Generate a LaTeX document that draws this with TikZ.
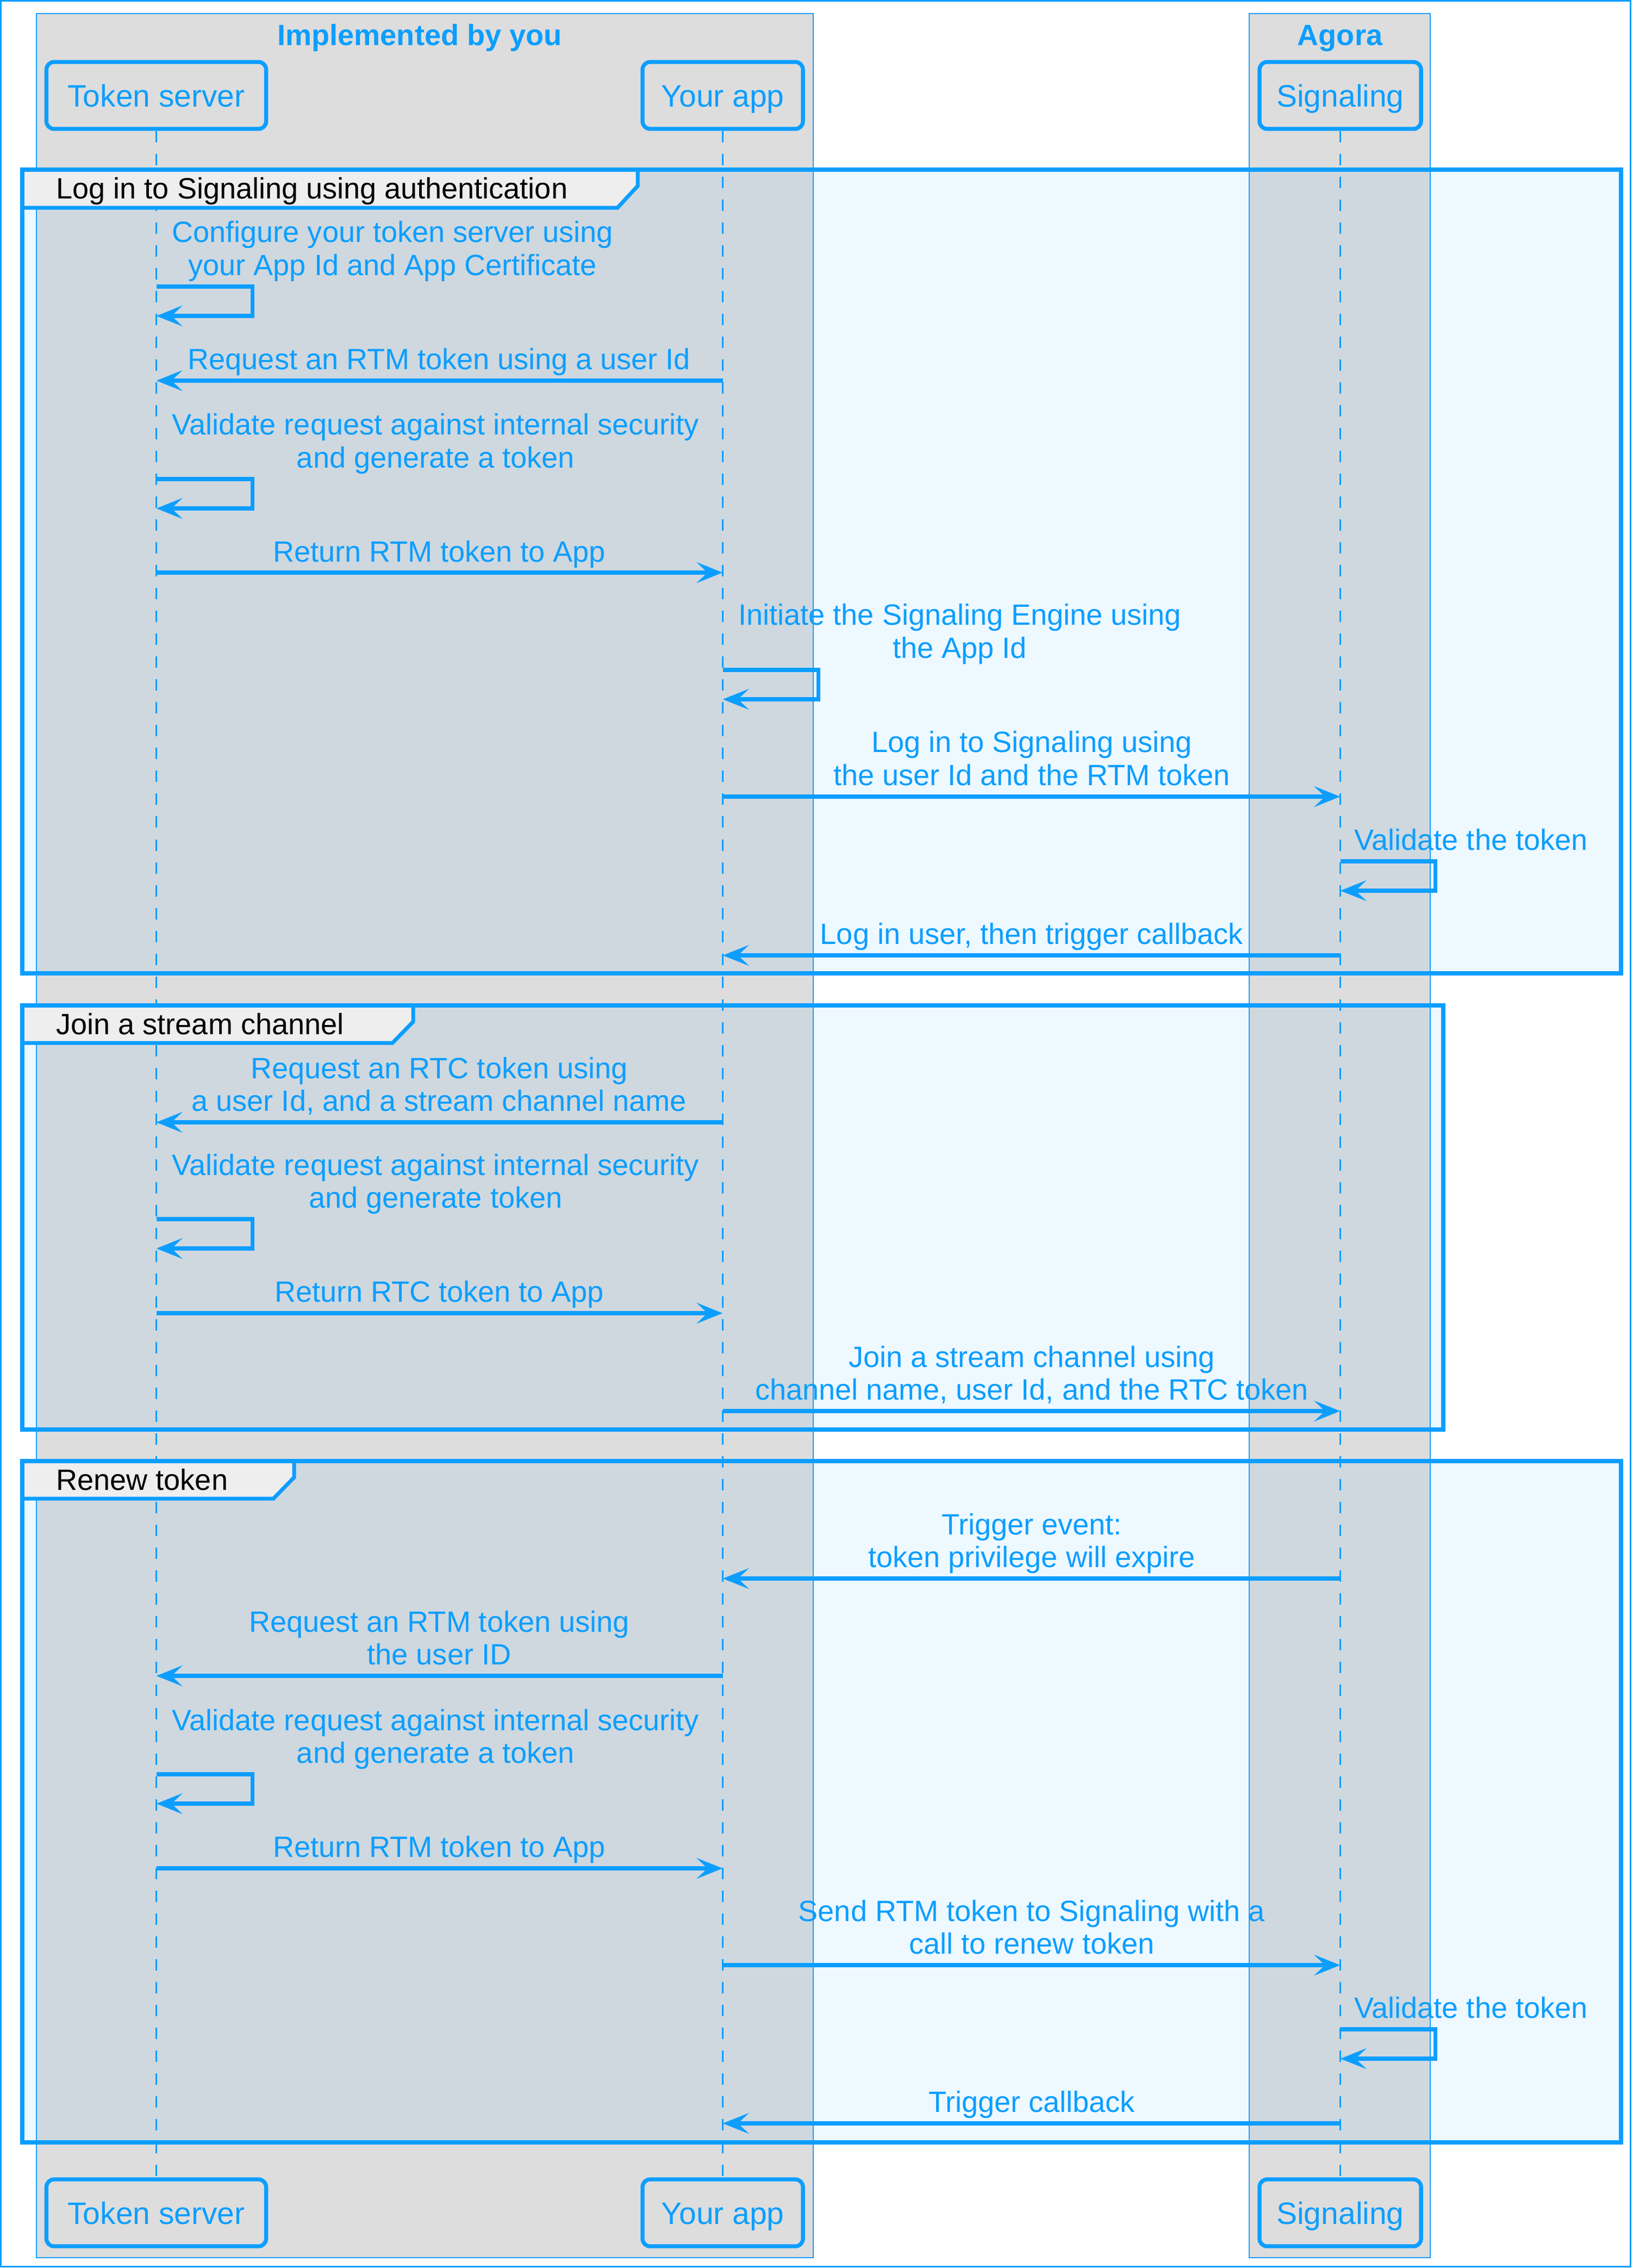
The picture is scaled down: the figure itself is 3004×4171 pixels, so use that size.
\documentclass[tikz,border=0pt]{standalone}
\usepackage{fontspec}
\setmainfont{Liberation Sans}
\usetikzlibrary{arrows.meta}
\definecolor{ablue}{RGB}{12,158,255}
\definecolor{lanegray}{HTML}{DDDDDD}
\definecolor{tabgray}{HTML}{EEEEEE}
\newcommand{\msgfont}{\fontsize{15.37pt}{17.07pt}\selectfont}
\newcommand{\partfont}{\fontsize{16.2pt}{18pt}\selectfont}
\newcommand{\ml}[1]{\begin{tabular}[b]{@{}c@{}}#1\end{tabular}}
\tikzset{
  lanebox/.style={fill=lanegray, draw=ablue, line width=0.023cm},
  lanetitle/.style={font=\msgfont\bfseries, text=ablue, inner sep=0, anchor=base},
  part/.style={draw=ablue, fill=lanegray, line width=0.073cm, rounded corners=0.14cm,
    minimum height=1.23cm, text height=0.41cm, text depth=0cm, inner sep=0,
    font=\partfont, text=ablue},
  lifeline/.style={draw=ablue, line width=0.023cm, dash pattern=on 0.21cm off 0.21cm},
  grpfill/.style={fill=ablue, fill opacity=0.066},
  grpframe/.style={draw=ablue, line width=0.075cm},
  grptab/.style={draw=ablue, fill=tabgray, line width=0.07cm, line join=miter},
  grptitle/.style={font=\msgfont, text=black, inner sep=0, anchor=base west},
  msg/.style={draw=ablue, line width=0.075cm, line join=miter,
    -{Stealth[length=0.48cm, width=0.38cm, inset=0.2cm]}},
  msglabel/.style={font=\msgfont, text=ablue, inner sep=0, anchor=base},
  selflabel/.style={font=\msgfont, text=ablue, inner sep=0, anchor=base west}
}
\begin{document}
\begin{tikzpicture}[x=0.01cm, y=-0.01cm]
\useasboundingbox (0,0) rectangle (3004,4171);
\fill[white] (0,0) rectangle (3004,4171);
\draw[ablue, line width=0.03cm] (1.5,1.5) rectangle (2999.5,4168.5);

% lanes
\draw[lanebox] (67,25) rectangle (1496,4152);
\draw[lanebox] (2298,25) rectangle (2631,4152);
\node[lanetitle] (lt1) at (772,83) {Implemented by you};
\node[lanetitle] (lt2) at (2465,83) {Agora};

% participants
\node[part, minimum width=4.04cm] (ts) at (287.5,175.5) {Token server};
\node[part, minimum width=2.95cm] (app) at (1329.5,175.5) {Your app};
\node[part, minimum width=2.97cm] (sig) at (2465.5,175.5) {Signaling};
\node[part, minimum width=4.04cm] (ts2) at (287.5,4069.5) {Token server};
\node[part, minimum width=2.95cm] (app2) at (1329.5,4069.5) {Your app};
\node[part, minimum width=2.97cm] (sig2) at (2465.5,4069.5) {Signaling};

% lifelines
\draw[lifeline] (ts.south) -- (ts2.north);
\draw[lifeline] (app.south) -- (app2.north);
\draw[lifeline] (sig.south) -- (sig2.north);

% group 1
\fill[grpfill] (41,312) rectangle (2982,1790);
\draw[grptab] (41,312) -- (1173,312) -- (1173,342) -- (1136,382) -- (41,382) -- cycle;
\draw[grpframe] (41,312) rectangle (2982,1790);
\node[grptitle] (g1) at (103,365) {Log in to Signaling using authentication};

% group 2
\fill[grpfill] (41,1849) rectangle (2655,2629);
\draw[grptab] (41,1849) -- (760,1849) -- (760,1879) -- (722,1918) -- (41,1918) -- cycle;
\draw[grpframe] (41,1849) rectangle (2655,2629);
\node[grptitle] (g2) at (103,1902) {Join a stream channel};

% group 3
\fill[grpfill] (41,2687) rectangle (2982,3940);
\draw[grptab] (41,2687) -- (541,2687) -- (541,2717) -- (503,2756) -- (41,2756) -- cycle;
\draw[grpframe] (41,2687) rectangle (2982,3940);
\node[grptitle] (g3) at (103,2740) {Renew token};

% messages group 1
\node[selflabel] (t1) at (316,506) {\ml{Configure your token server using\\your App Id and App Certificate}};
\draw[msg] (ts |- 0,527) -- ++(177,0) -- ++(0,54) -- (ts |- 0,581);

\node[msglabel] (t2) at (808,679) {Request an RTM token using a user Id};
\draw[msg] (app |- 0,700) -- (ts |- 0,700);

\node[selflabel] (t3) at (316,860) {\ml{Validate request against internal security\\and generate a token}};
\draw[msg] (ts |- 0,881) -- ++(177,0) -- ++(0,54) -- (ts |- 0,935);

\node[msglabel] (t4) at (808,1033) {Return RTM token to App};
\draw[msg] (ts |- 0,1053) -- (app |- 0,1053);

\node[selflabel] (t5) at (1358,1210) {\ml{Initiate the Signaling Engine using\\the App Id}};
\draw[msg] (app |- 0,1232) -- ++(176,0) -- ++(0,54) -- (app |- 0,1286);

\node[msglabel] (t6) at (1898,1444) {\ml{Log in to Signaling using\\the user Id and the RTM token}};
\draw[msg] (app |- 0,1465) -- (sig |- 0,1465);

\node[selflabel] (t7) at (2491,1563) {Validate the token};
\draw[msg] (sig |- 0,1584) -- ++(175,0) -- ++(0,54) -- (sig |- 0,1638);

\node[msglabel] (t8) at (1898,1736) {Log in user, then trigger callback};
\draw[msg] (sig |- 0,1757) -- (app |- 0,1757);

% messages group 2
\node[msglabel] (t9) at (808,2043) {\ml{Request an RTC token using\\a user Id, and a stream channel name}};
\draw[msg] (app |- 0,2064) -- (ts |- 0,2064);

\node[selflabel] (t10) at (316,2221) {\ml{Validate request against internal security\\and generate token}};
\draw[msg] (ts |- 0,2242) -- ++(177,0) -- ++(0,54) -- (ts |- 0,2296);

\node[msglabel] (t11) at (808,2394) {Return RTC token to App};
\draw[msg] (ts |- 0,2415) -- (app |- 0,2415);

\node[msglabel] (t12) at (1898,2574) {\ml{Join a stream channel using\\channel name, user Id, and the RTC token}};
\draw[msg] (app |- 0,2595) -- (sig |- 0,2595);

% messages group 3
\node[msglabel] (t13) at (1898,2882) {\ml{Trigger event:\\token privilege will expire}};
\draw[msg] (sig |- 0,2903) -- (app |- 0,2903);

\node[msglabel] (t14) at (808,3061) {\ml{Request an RTM token using\\the user ID}};
\draw[msg] (app |- 0,3082) -- (ts |- 0,3082);

\node[selflabel] (t15) at (316,3242) {\ml{Validate request against internal security\\and generate a token}};
\draw[msg] (ts |- 0,3263) -- ++(177,0) -- ++(0,54) -- (ts |- 0,3317);

\node[msglabel] (t16) at (808,3415) {Return RTM token to App};
\draw[msg] (ts |- 0,3436) -- (app |- 0,3436);

\node[msglabel] (t17) at (1898,3593) {\ml{Send RTM token to Signaling with a\\call to renew token}};
\draw[msg] (app |- 0,3614) -- (sig |- 0,3614);

\node[selflabel] (t18) at (2491,3711) {Validate the token};
\draw[msg] (sig |- 0,3732) -- ++(175,0) -- ++(0,54) -- (sig |- 0,3786);

\node[msglabel] (t19) at (1898,3884) {Trigger callback};
\draw[msg] (sig |- 0,3905) -- (app |- 0,3905);
\end{tikzpicture}
\end{document}
